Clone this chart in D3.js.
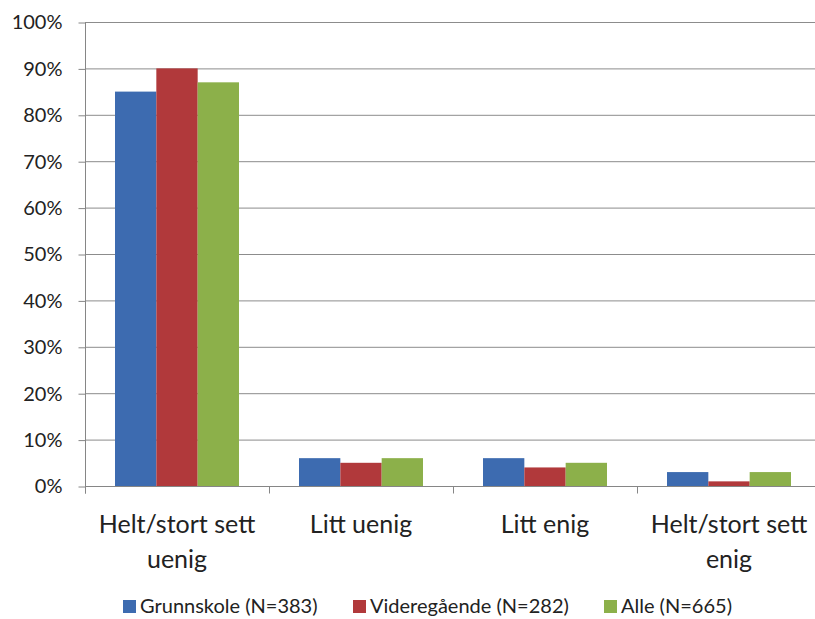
<!DOCTYPE html>
<html>
<head>
<meta charset="utf-8">
<script src="https://cdn.jsdelivr.net/npm/d3@7"></script>
<style>
  body { margin: 0; background: #fff; }
  svg { display: block; }
  text { font-family: Lato, "Open Sans", sans-serif; fill: #222; }
</style>
</head>
<body>
<svg id="chart" width="815" height="619"></svg>
<script>
// Answer categories (x axis)
const categories = [
  ["Helt/stort sett", "uenig"],
  ["Litt uenig"],
  ["Litt enig"],
  ["Helt/stort sett", "enig"]
];
// Series names and shares in percent
const seriesNames = ["Grunnskole (N=383)", "Videregående (N=282)", "Alle (N=665)"];
const grunnskole  = [85, 6, 6, 3];
const videregaende = [90, 5, 4, 1];
const alle        = [87, 6, 5, 3];
const seriesValues = [grunnskole, videregaende, alle];
const seriesColors = ["#3D6BB0", "#B1393B", "#8CB04A"];
const yTicks = [0, 10, 20, 30, 40, 50, 60, 70, 80, 90, 100];

const svg = d3.select("#chart");
const plotLeft = 85, plotRight = 821, plotTop = 22, plotBottom = 486;

const x0 = d3.scaleBand().domain(d3.range(categories.length)).range([plotLeft, plotRight]).paddingInner(0).paddingOuter(0);
const x1 = d3.scaleBand().domain(d3.range(seriesNames.length)).range([30, x0.bandwidth() - 30]);
const y = d3.scaleLinear().domain([0, 100]).range([plotBottom, plotTop]);

// Horizontal gridlines
svg.append("g").selectAll("line").data(yTicks.filter(d => d > 0)).join("line")
  .attr("x1", plotLeft).attr("x2", plotRight)
  .attr("y1", d => y(d) + 0.5).attr("y2", d => y(d) + 0.5)
  .attr("stroke", "#8c8c8c").attr("stroke-width", 1);

// Bars
const groups = svg.append("g").selectAll("g").data(categories).join("g")
  .attr("transform", (d, i) => `translate(${x0(i)},0)`);
groups.selectAll("rect")
  .data((d, i) => seriesValues.map((vals, s) => ({ s, v: vals[i] })))
  .join("rect")
  .attr("x", d => x1(d.s))
  .attr("width", x1.bandwidth())
  .attr("y", d => y(d.v))
  .attr("height", d => y(0) - y(d.v))
  .attr("fill", d => seriesColors[d.s]);

// Y axis
const yAxis = d3.axisLeft(y).tickValues(yTicks).tickFormat(d => d + "%").tickSize(7).tickPadding(16);
const gy = svg.append("g").attr("transform", `translate(${plotLeft + 0.5},0.5)`).call(yAxis);
gy.select(".domain").attr("stroke", "#868686").attr("d", `M0,${plotTop}V${plotBottom + 7}`);
gy.selectAll(".tick line").attr("stroke", "#868686");
gy.selectAll(".tick text").style("font-size", "20px").attr("fill", "#222")
  .style("font-family", "Lato, 'Open Sans', sans-serif");

// X axis with ticks at category boundaries
const gx = svg.append("g").attr("transform", `translate(0,${plotBottom + 0.5})`);
gx.append("line").attr("x1", plotLeft).attr("x2", plotRight).attr("stroke", "#868686");
gx.selectAll("line.tk").data(d3.range(categories.length + 1)).join("line")
  .attr("class", "tk")
  .attr("x1", i => plotLeft + i * x0.bandwidth() + 0.5).attr("x2", i => plotLeft + i * x0.bandwidth() + 0.5)
  .attr("y1", 0).attr("y2", 7).attr("stroke", "#868686");

// Category labels
svg.append("g").selectAll("text").data(categories).join("text")
  .attr("text-anchor", "middle")
  .attr("x", (d, i) => x0(i) + x0.bandwidth() / 2)
  .attr("y", 533)
  .style("font-size", "25px")
  .selectAll("tspan").data(d => d).join("tspan")
  .attr("x", function () { return d3.select(this.parentNode).attr("x"); })
  .attr("dy", (d, j) => j === 0 ? 0 : 35)
  .text(d => d);

// Legend
const legendX = [123, 353, 604];
const legend = svg.append("g").selectAll("g").data(seriesNames).join("g")
  .attr("transform", (d, i) => `translate(${legendX[i]},613)`);
legend.append("rect").attr("x", 0).attr("y", -13).attr("width", 13).attr("height", 13)
  .attr("fill", (d, i) => seriesColors[i]);
legend.append("text").attr("x", 17).attr("y", 0).style("font-size", "20px").text(d => d);
</script>
</body>
</html>
